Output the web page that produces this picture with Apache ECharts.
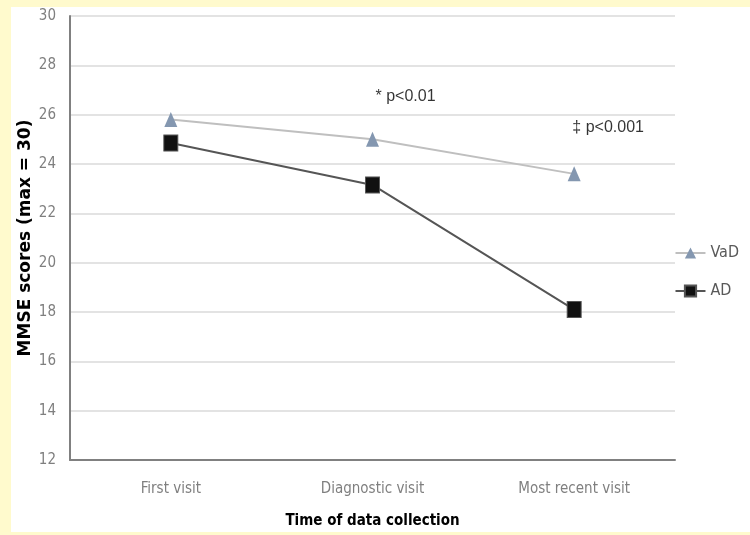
<!DOCTYPE html>
<html>
<head>
<meta charset="utf-8">
<script src="https://cdn.jsdelivr.net/npm/echarts@6/dist/echarts.min.js"></script>
<style>
	html, body { margin: 0; padding: 0; background: #fffacd; }
	#container { position: absolute; left: 11px; top: 7px; width: 739px; height: 525px; background: #ffffff; }
</style>
</head>
<body>
<div id="container"></div>
<script>
var categorias = ['First visit', 'Diagnostic visit', 'Most recent visit'];
var valoresVaD = [25.8, 25.0, 23.6];
var valoresAD = [24.85, 23.15, 18.1];
var notas = [
	{ texto: '* p<0.01', cat: 'Diagnostic visit', valor: 26.72 },
	{ texto: '\u2021 p<0.001', cat: 'Most recent visit', valor: 25.46 }
];

var fuente = "'Liberation Sans Narrow', 'DejaVu Sans Condensed', sans-serif";

var dom = document.getElementById("container");
var myChart = echarts.init(dom);

var option = {
	animation: false,
	backgroundColor: '#ffffff',
	grid: {
		left: 59,
		right: 75,
		top: 9,
		bottom: 72,
		containLabel: false,
		outerBoundsMode: 'none'
	},
	legend: {
		orient: 'vertical',
		right: 6,
		top: 233,
		itemGap: 22,
		itemWidth: 30,
		itemHeight: 14,
		textStyle: { fontFamily: fuente, fontSize: 16, color: '#595959' },
		data: ['VaD', 'AD']
	},
	xAxis: {
		type: 'category',
		data: categorias,
		boundaryGap: true,
		name: 'Time of data collection',
		nameLocation: 'middle',
		nameGap: 54,
		nameMoveOverlap: false,
		nameTextStyle: { fontFamily: fuente, fontSize: 15, fontWeight: 'bold', color: '#000000' },
		axisLine: { lineStyle: { color: '#808080', width: 2 } },
		axisTick: { show: false },
		axisLabel: { fontFamily: fuente, fontSize: 15, color: '#7f7f7f', margin: 22 }
	},
	yAxis: {
		type: 'value',
		min: 12,
		max: 30,
		interval: 2,
		name: 'MMSE scores (max = 30)',
		nameLocation: 'middle',
		nameGap: 36,
		nameMoveOverlap: false,
		nameTextStyle: { fontFamily: "'DejaVu Sans', sans-serif", fontSize: 17, fontWeight: 'bold', color: '#000000' },
		axisLine: { show: true, lineStyle: { color: '#808080', width: 2 } },
		axisTick: { show: false },
		axisLabel: { fontFamily: fuente, fontSize: 15, color: '#7f7f7f', margin: 14 },
		splitLine: { lineStyle: { color: '#e3e3e3', width: 2 } }
	},
	series: [
		{
			name: 'VaD',
			type: 'line',
			data: valoresVaD,
			symbol: 'triangle',
			symbolSize: [13, 15],
			itemStyle: { color: '#8497b0' },
			lineStyle: { color: '#bfbfbf', width: 2 },
			z: 3
		},
		{
			name: 'AD',
			type: 'line',
			data: valoresAD,
			symbol: 'rect',
			symbolSize: [14, 16],
			itemStyle: { color: '#111111', borderColor: '#555555', borderWidth: 1 },
			lineStyle: { color: '#555555', width: 2 },
			z: 4
		},
		{
			name: 'notas',
			type: 'scatter',
			symbolSize: 0,
			silent: true,
			data: notas.map(function (n) { return { value: [n.cat, n.valor], texto: n.texto }; }),
			label: {
				show: true,
				position: 'inside',
				formatter: function (p) { return p.data.texto; },
				fontFamily: "'Liberation Sans', sans-serif",
				fontSize: 16,
				color: '#000000'
			}
		}
	]
};
option.series[2].data[0].label = { offset: [33, 0] };
option.series[2].data[1].label = { offset: [34, 0] };

myChart.setOption(option, true);
</script>
</body>
</html>
